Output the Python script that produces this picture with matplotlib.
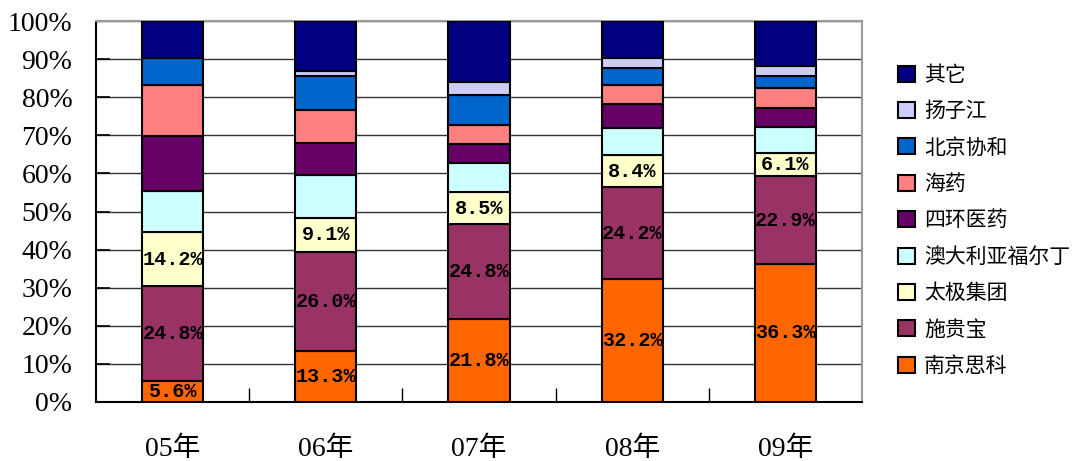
import numpy as np
import matplotlib
matplotlib.use("Agg")
import matplotlib.pyplot as plt
from matplotlib.patches import Patch

plt.rcParams['font.family'] = ['Liberation Serif', 'Noto Sans CJK SC', 'DejaVu Sans']

# data (shares in %)
years = ['05年', '06年', '07年', '08年', '09年']
series = ['南京思科', '施贵宝', '太极集团', '澳大利亚福尔丁', '四环医药',
          '海药', '北京协和', '扬子江', '其它']
nanjing = [5.6, 13.3, 21.8, 32.2, 36.3]
shiguibao = [24.8, 26.0, 24.8, 24.2, 22.9]
taiji = [14.2, 9.1, 8.5, 8.4, 6.1]
aodaliya = [10.8, 11.1, 7.6, 7.1, 6.9]
sihuan = [14.3, 8.5, 5.0, 6.4, 4.9]
haiyao = [13.4, 8.6, 4.9, 5.0, 5.2]
xiehe = [7.3, 9.1, 8.1, 4.4, 3.2]
yangzijiang = [0.0, 1.3, 3.2, 2.7, 2.8]
qita = [9.6, 13.0, 16.1, 9.6, 11.7]

values = [nanjing, shiguibao, taiji, aodaliya, sihuan, haiyao, xiehe, yangzijiang, qita]
colors = ['#FF6600', '#993366', '#FFFFCC', '#CCFFFF', '#660066',
          '#FF8080', '#0066CC', '#CCCCFF', '#000080']
labelled = [0, 1, 2]  # series that carry value labels

fig = plt.figure(figsize=(10.88, 4.61), dpi=100)
ax = fig.add_axes([0.0882, 0.128, 0.7041, 0.8264])

x = np.arange(len(years))
bottom = np.zeros(len(years))
for i, (vals, col) in enumerate(zip(values, colors)):
    vals = np.array(vals)
    ax.bar(x, vals, 0.4, bottom=bottom, color=col, edgecolor='black',
           linewidth=1.5, zorder=3)
    if i in labelled:
        for xi, b, v in zip(x, bottom, vals):
            ax.text(xi, b + v / 2, f'{v:.1f}%', ha='center', va='center',
                    fontsize=14.5, family=['Liberation Mono', 'DejaVu Sans'],
                    fontweight='bold', zorder=4)
    bottom += vals

ax.set_xlim(-0.5, len(years) - 0.5)
ax.set_ylim(0, 100)
ax.set_yticks(np.arange(0, 101, 10))
ax.set_yticklabels([f'{v}%' for v in range(0, 101, 10)], fontsize=20)
ax.yaxis.grid(True, color='#333333', linewidth=1, zorder=0)
ax.tick_params(axis='y', direction='in', length=10, width=1.2, pad=17)

# category labels and boundary ticks
ax.set_xticks(x)
ax.set_xticklabels(years, fontsize=20)
ax.tick_params(axis='x', length=0, pad=25)
ax.set_xticks(np.arange(0.5, len(years) - 0.5, 1), minor=True)
ax.tick_params(axis='x', which='minor', direction='in', length=10, width=1)

for side in ['top', 'right']:
    ax.spines[side].set_color('#999999')
    ax.spines[side].set_linewidth(1.5)
for side in ['left', 'bottom']:
    ax.spines[side].set_color('black')
    ax.spines[side].set_linewidth(1.5)

handles = [Patch(facecolor=c, edgecolor='black', linewidth=1.5, label=s)
           for s, c in zip(series, colors)][::-1]
fig.legend(handles=handles, loc='upper left', bbox_to_anchor=(0.808, 0.902),
           frameon=False, prop={'family': ['Noto Sans CJK SC'], 'size': 15},
           handlelength=0.8, handleheight=0.8, handletextpad=0.45, labelspacing=0.69)

fig.savefig('out.png', dpi=100)
